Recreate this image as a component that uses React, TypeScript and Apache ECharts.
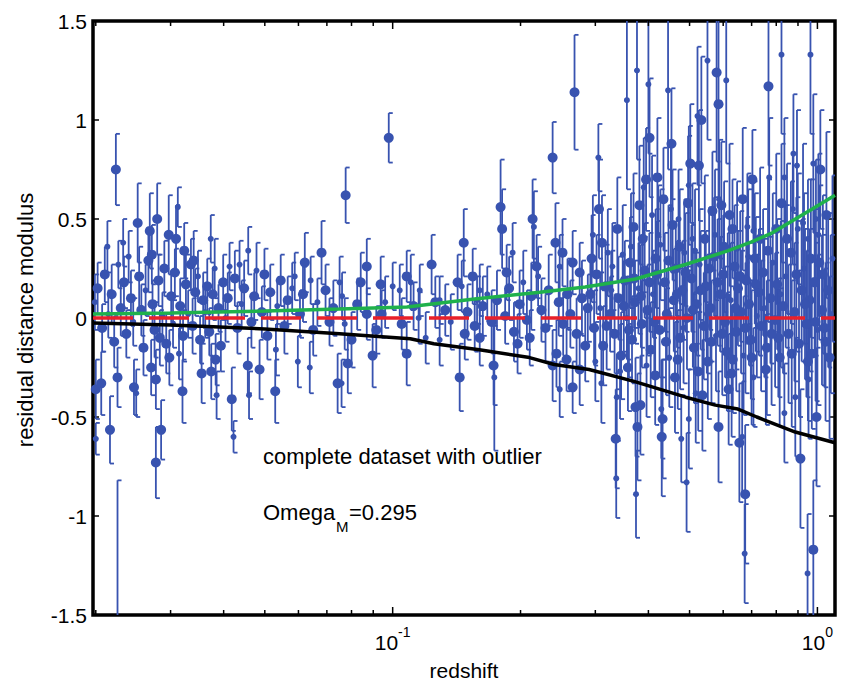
import React, { useEffect, useRef } from 'react';
import * as echarts from 'echarts';

// ---- axis ranges and ticks ----
const xMin = 0.0197;
const xMax = 1.1;
const yMin = -1.5;
const yMax = 1.5;
const yStep = 0.5;
const xMinorTicks = [0.02, 0.03, 0.04, 0.05, 0.06, 0.07, 0.08, 0.09, 0.2, 0.3, 0.4, 0.5, 0.6, 0.7, 0.8, 0.9];
const xMajorTicks = [0.1, 1];

// ---- supernova residuals: [redshift, residual, error, weightFlag] ----
const nearbyPoints = [
  [0.0199, 0.08, 0.14, 0], [0.0200, -0.36, 0.15, 1], [0.0200, -0.61, 0.08, 0], [0.0202, 0.15, 0.13, 1],
  [0.0206, -0.33, 0.16, 1], [0.0207, -0.05, 0.12, 1], [0.0210, 0.22, 0.14, 1], [0.0213, 0.36, 0.13, 0],
  [0.0214, 0.02, 0.12, 0], [0.0216, -0.565, 0.17, 1], [0.0218, 0.12, 0.15, 1], [0.0221, -0.12, 0.13, 1],
  [0.0223, 0.75, 0.18, 1], [0.0225, -0.30, 0.15, 1], [0.0226, 0.27, 0.12, 0], [0.0229, 0.05, 0.14, 1],
  [0.0232, 0.38, 0.12, 0], [0.0233, 0.18, 0.13, 1], [0.0236, -0.08, 0.12, 1], [0.0239, 0.31, 0.13, 0],
  [0.0242, 0.10, 0.14, 1], [0.0245, -0.02, 0.12, 0], [0.0246, -0.35, 0.14, 1], [0.0249, -0.38, 0.12, 0],
  [0.0251, 0.48, 0.20, 1], [0.0253, 0.21, 0.15, 1], [0.0256, 0.04, 0.13, 1], [0.0259, -0.15, 0.14, 1],
  [0.0262, 0.14, 0.13, 0], [0.0266, 0.29, 0.16, 1], [0.0268, 0.44, 0.19, 1], [0.0270, -0.25, 0.14, 1],
  [0.0271, 0.32, 0.15, 1], [0.0272, 0.07, 0.12, 1], [0.0275, -0.06, 0.14, 1], [0.0277, -0.31, 0.15, 1],
  [0.0277, -0.73, 0.18, 1], [0.0279, 0.50, 0.18, 1], [0.0281, 0.19, 0.13, 1], [0.0283, -0.10, 0.14, 1],
  [0.0285, -0.565, 0.15, 1], [0.0287, 0.01, 0.12, 0], [0.0290, 0.25, 0.14, 1], [0.0293, -0.13, 0.15, 1],
  [0.0297, 0.42, 0.20, 1], [0.0298, -0.20, 0.14, 1], [0.0301, 0.11, 0.13, 1], [0.0304, -0.03, 0.12, 0],
  [0.0307, 0.23, 0.12, 1], [0.0309, 0.40, 0.17, 1], [0.0312, 0.56, 0.10, 0], [0.0314, -0.18, 0.13, 0],
  [0.0316, 0.06, 0.14, 1], [0.0320, -0.37, 0.16, 1], [0.0321, -0.09, 0.13, 1], [0.0323, 0.34, 0.14, 1],
  [0.0326, 0.17, 0.15, 1], [0.0330, 0.02, 0.12, 0], [0.0335, 0.27, 0.13, 1], [0.0338, -0.04, 0.14, 1],
  [0.0340, 0.29, 0.15, 1], [0.0343, 0.13, 0.12, 1], [0.0348, 0.21, 0.13, 0], [0.0352, -0.11, 0.12, 1],
  [0.0355, -0.28, 0.15, 1], [0.0358, 0.09, 0.14, 1], [0.0362, 0.03, 0.13, 0], [0.0366, 0.16, 0.14, 1],
  [0.0370, -0.07, 0.12, 1], [0.0373, 0.40, 0.12, 0], [0.0374, -0.27, 0.14, 1], [0.0377, 0.12, 0.13, 1],
  [0.0381, 0.25, 0.15, 0], [0.0383, -0.21, 0.13, 1], [0.0385, -0.39, 0.12, 0], [0.0389, 0.05, 0.12, 1],
  [0.0394, -0.14, 0.13, 1], [0.0399, 0.18, 0.14, 1], [0.0404, 0.00, 0.12, 0], [0.0409, 0.10, 0.13, 1],
  [0.0413, 0.26, 0.12, 0], [0.0418, -0.41, 0.16, 1], [0.0422, -0.60, 0.08, 0], [0.0425, 0.20, 0.14, 1],
  [0.0431, -0.05, 0.13, 1], [0.0436, 0.27, 0.12, 0], [0.0441, 0.07, 0.12, 0], [0.0447, 0.15, 0.14, 1],
  [0.0456, -0.24, 0.14, 1], [0.0457, 0.34, 0.12, 0], [0.0459, -0.39, 0.12, 0], [0.0465, -0.02, 0.13, 1],
  [0.0472, 0.11, 0.12, 1], [0.0478, 0.24, 0.14, 0], [0.0486, -0.26, 0.15, 1], [0.0492, 0.03, 0.13, 1],
  [0.0499, 0.22, 0.13, 1], [0.0507, -0.09, 0.12, 1], [0.0515, 0.13, 0.14, 1], [0.0529, -0.37, 0.16, 1],
  [0.0531, -0.16, 0.13, 0], [0.0535, 0.06, 0.12, 0], [0.0545, 0.19, 0.13, 1], [0.0556, -0.04, 0.14, 1],
  [0.0566, 0.09, 0.12, 1], [0.0580, 0.15, 0.13, 0], [0.0588, 0.21, 0.12, 0], [0.0598, -0.22, 0.13, 0],
  [0.0605, 0.02, 0.12, 1], [0.0615, 0.12, 0.14, 1], [0.0621, 0.28, 0.15, 1], [0.0638, -0.25, 0.13, 0],
  [0.0641, 0.19, 0.12, 0], [0.0650, -0.06, 0.13, 1], [0.0665, 0.08, 0.12, 0], [0.0680, 0.33, 0.16, 1],
  [0.0695, 0.14, 0.13, 1], [0.0710, -0.02, 0.12, 1], [0.0725, 0.05, 0.14, 1], [0.0742, -0.33, 0.15, 1],
];

const intermediatePoints = [
  [0.0750, 0.18, 0.13, 0], [0.0758, -0.33, 0.12, 0], [0.0760, 0.11, 0.12, 0], [0.0771, -0.03, 0.13, 0],
  [0.0775, 0.62, 0.14, 1], [0.0784, -0.23, 0.15, 1], [0.0800, -0.11, 0.14, 1], [0.0825, 0.07, 0.13, 1],
  [0.0841, 0.18, 0.15, 1], [0.0869, 0.26, 0.14, 1], [0.0869, 0.02, 0.13, 1], [0.0897, -0.19, 0.16, 1],
  [0.0915, -0.06, 0.12, 1], [0.0937, 0.17, 0.14, 1], [0.0942, 0.02, 0.12, 1], [0.0960, 0.08, 0.13, 0],
  [0.0979, 0.91, 0.125, 1], [0.1000, 0.16, 0.12, 0], [0.1039, 0.14, 0.13, 0], [0.1050, -0.03, 0.13, 1],
  [0.1079, 0.21, 0.13, 1], [0.1079, -0.18, 0.16, 1], [0.1103, 0.18, 0.14, 0], [0.1120, 0.06, 0.12, 1],
  [0.1151, 0.00, 0.13, 0], [0.1158, 0.14, 0.13, 0], [0.1196, -0.10, 0.13, 0], [0.1235, 0.27, 0.15, 1],
  [0.1260, 0.08, 0.13, 1], [0.1290, 0.09, 0.12, 0], [0.1290, -0.11, 0.13, 0], [0.1330, 0.04, 0.13, 1],
  [0.1370, -0.02, 0.14, 0], [0.1422, 0.18, 0.14, 1], [0.1438, -0.30, 0.17, 1], [0.1454, 0.16, 0.13, 0],
  [0.1470, 0.38, 0.17, 1], [0.1478, -0.08, 0.13, 1], [0.1500, 0.03, 0.14, 1], [0.1543, 0.21, 0.14, 1],
  [0.1560, -0.04, 0.13, 1], [0.1580, 0.09, 0.12, 0], [0.1603, 0.14, 0.13, 0], [0.1603, -0.10, 0.14, 1],
  [0.1630, 0.06, 0.15, 1], [0.1670, 0.12, 0.14, 0], [0.1710, -0.02, 0.16, 1], [0.1728, -0.24, 0.20, 1],
  [0.1735, -0.30, 0.37, 0], [0.1760, 0.09, 0.15, 1], [0.1795, 0.56, 0.24, 1], [0.1810, 0.45, 0.20, 1],
  [0.1840, 0.01, 0.14, 1], [0.1855, 0.23, 0.14, 1], [0.1880, 0.15, 0.16, 1], [0.1916, 0.33, 0.15, 0],
  [0.1930, -0.07, 0.15, 1], [0.1968, -0.13, 0.15, 1], [0.1990, 0.07, 0.17, 1], [0.2030, 0.18, 0.16, 0],
  [0.2070, -0.01, 0.15, 1], [0.2102, -0.10, 0.14, 1], [0.2120, 0.11, 0.17, 1], [0.2135, 0.50, 0.20, 1],
  [0.2150, 0.46, 0.18, 0], [0.2182, 0.26, 0.16, 1], [0.2200, 0.21, 0.15, 0], [0.2240, 0.04, 0.16, 1],
  [0.2290, -0.05, 0.17, 1], [0.2330, 0.14, 0.18, 1], [0.2380, 0.81, 0.18, 1], [0.2380, -0.24, 0.18, 1],
  [0.2417, 0.38, 0.20, 1], [0.2430, -0.18, 0.17, 1], [0.2460, 0.08, 0.17, 1], [0.2473, 0.26, 0.16, 0],
  [0.2473, -0.36, 0.14, 0], [0.2511, 0.33, 0.17, 1], [0.2520, -0.03, 0.16, 1], [0.2567, -0.21, 0.16, 1],
  [0.2580, 0.12, 0.18, 1], [0.2620, 0.02, 0.17, 1], [0.2653, 0.28, 0.16, 1], [0.2653, -0.35, 0.13, 1],
  [0.2680, 1.14, 0.29, 1], [0.2710, -0.08, 0.18, 1], [0.2756, 0.23, 0.15, 1], [0.2756, -0.26, 0.18, 1],
  [0.2790, 0.10, 0.19, 1], [0.2840, -0.14, 0.18, 1], [0.2880, 0.05, 0.17, 1],
];

const distantPoints = [
  [0.292, 0.12, 0.18, 1], [0.296, 0.42, 0.20, 0], [0.298, -0.05, 0.19, 1], [0.302, 0.22, 0.20, 1],
  [0.305, 0.81, 0.17, 0], [0.306, 0.55, 0.25, 1], [0.308, 0.05, 0.18, 0], [0.310, -0.33, 0.20, 0],
  [0.313, -0.14, 0.20, 1], [0.317, 0.16, 0.21, 1], [0.321, 0.33, 0.22, 0], [0.325, 0.02, 0.19, 1],
  [0.329, 0.26, 0.22, 0], [0.333, -0.08, 0.20, 1], [0.335, -0.61, 0.25, 1], [0.336, -0.81, 0.20, 0],
  [0.337, -0.40, 0.22, 0], [0.340, 0.10, 0.21, 1], [0.345, -0.19, 0.22, 1], [0.348, 0.32, 0.25, 0],
  [0.352, 0.19, 0.20, 1], [0.356, 0.00, 0.21, 0], [0.358, -0.25, 0.22, 1], [0.362, 0.28, 0.23, 1],
  [0.366, -0.11, 0.22, 1], [0.369, 0.46, 0.27, 1], [0.372, 0.08, 0.21, 1], [0.373, -0.45, 0.25, 1],
  [0.374, -0.89, 0.22, 0], [0.376, 1.25, 0.45, 0], [0.377, -0.55, 0.27, 1], [0.379, 0.15, 0.23, 0],
  [0.381, 0.57, 0.30, 1], [0.383, -0.44, 0.25, 1], [0.386, -0.03, 0.22, 1], [0.390, 0.66, 0.25, 0],
  [0.392, 0.24, 0.24, 1], [0.395, 0.70, 0.26, 1], [0.398, 0.04, 0.23, 1], [0.400, 1.18, 0.35, 0],
  [0.4025, 0.91, 0.30, 1], [0.405, -0.16, 0.24, 1], [0.410, 0.12, 0.22, 0], [0.415, -0.29, 0.25, 1],
  [0.416, 0.30, 0.25, 1], [0.420, 0.71, 0.30, 1], [0.422, 0.42, 0.25, 0], [0.425, -0.06, 0.24, 1],
  [0.429, -0.46, 0.25, 0], [0.430, -0.60, 0.30, 1], [0.432, -0.51, 0.30, 1], [0.434, 0.60, 0.26, 1],
  [0.437, 0.18, 0.25, 1], [0.442, 0.02, 0.23, 1], [0.448, -0.20, 0.25, 0], [0.4533, 0.88, 0.28, 1],
  [0.456, 0.47, 0.28, 1], [0.459, 0.09, 0.26, 1], [0.464, 0.25, 0.24, 1], [0.469, -0.21, 0.25, 1],
  [0.471, 0.50, 0.25, 0], [0.475, -0.10, 0.26, 1], [0.478, -0.61, 0.22, 0], [0.481, 0.14, 0.25, 1],
  [0.486, 0.33, 0.27, 0], [0.492, -0.83, 0.25, 0], [0.493, 0.00, 0.26, 1], [0.498, 0.67, 0.30, 0],
  [0.498, -0.51, 0.25, 0], [0.502, 0.78, 0.30, 1], [0.505, 0.20, 0.27, 1], [0.508, 0.40, 0.28, 0],
  [0.512, -0.15, 0.28, 1], [0.517, -0.38, 0.25, 0], [0.519, 0.07, 0.26, 1], [0.522, 1.02, 0.35, 0],
  [0.526, 0.77, 0.28, 1], [0.528, 0.27, 0.28, 0], [0.533, 1.00, 0.32, 1], [0.536, -0.39, 0.28, 1],
  [0.540, -0.04, 0.27, 1], [0.546, 0.16, 0.28, 1], [0.551, 1.30, 0.40, 0], [0.552, -0.22, 0.29, 1],
  [0.560, 0.05, 0.27, 1], [0.566, 0.54, 0.30, 1], [0.571, 0.31, 0.30, 1], [0.577, -0.09, 0.28, 0],
  [0.579, 1.24, 0.45, 1], [0.585, 1.08, 0.50, 1], [0.585, -0.55, 0.28, 1], [0.587, 0.60, 0.30, 0],
  [0.590, 0.12, 0.29, 1], [0.594, 0.57, 0.32, 1], [0.600, 0.22, 0.30, 1], [0.606, -0.02, 0.28, 1],
  [0.612, -0.17, 0.30, 1], [0.618, -0.36, 0.28, 1], [0.625, 0.09, 0.29, 0], [0.631, 0.45, 0.25, 1],
  [0.632, -0.21, 0.27, 1], [0.638, 0.26, 0.31, 1], [0.644, -0.07, 0.30, 1], [0.650, 0.15, 0.29, 1],
  [0.655, -0.63, 0.30, 1], [0.661, 0.03, 0.31, 1], [0.665, -0.60, 0.28, 0], [0.670, -0.19, 0.30, 0],
  [0.674, -1.19, 0.25, 0], [0.676, -0.89, 0.35, 1], [0.680, 0.19, 0.32, 1], [0.684, 0.46, 0.27, 0],
  [0.690, 0.07, 0.31, 1], [0.697, -0.11, 0.30, 1], [0.703, 0.70, 0.25, 1], [0.707, 0.44, 0.25, 0],
  [0.707, -0.30, 0.25, 0], [0.712, 0.30, 0.33, 1], [0.720, 0.01, 0.31, 0], [0.728, 0.13, 0.32, 1],
  [0.737, -0.04, 0.33, 1], [0.745, 0.23, 0.32, 1], [0.756, -0.26, 0.28, 1], [0.760, -0.15, 0.34, 1],
  [0.767, 1.17, 0.40, 1], [0.770, 0.71, 0.30, 0], [0.775, 0.10, 0.33, 1], [0.785, 0.28, 0.35, 0],
  [0.795, -0.01, 0.34, 1], [0.804, 0.17, 0.33, 1], [0.809, -0.10, 0.30, 1], [0.815, -0.20, 0.35, 1],
  [0.823, 1.33, 0.40, 0], [0.823, 0.58, 0.30, 1], [0.830, 0.06, 0.34, 1], [0.836, 0.71, 0.30, 0],
  [0.836, -0.48, 0.25, 0], [0.842, 0.21, 0.36, 0], [0.855, -0.08, 0.35, 1], [0.866, 0.33, 0.36, 1],
  [0.875, 0.55, 0.28, 0], [0.878, 0.83, 0.30, 0], [0.883, 0.03, 0.35, 1], [0.887, -0.40, 0.30, 0],
  [0.895, 0.77, 0.28, 0], [0.899, 0.45, 0.28, 0], [0.905, -0.13, 0.37, 1], [0.912, -0.71, 0.35, 1],
  [0.918, 0.14, 0.36, 1], [0.930, 0.25, 0.38, 0], [0.942, -0.03, 0.37, 1], [0.948, -1.29, 0.30, 0],
  [0.950, 0.40, 0.30, 0], [0.950, -0.22, 0.30, 1], [0.953, -0.31, 0.30, 0], [0.958, 0.09, 0.36, 1],
  [0.963, 1.33, 0.40, 0], [0.970, -0.18, 0.38, 1], [0.978, 0.78, 0.35, 0], [0.978, -1.17, 0.35, 1],
  [0.985, 0.18, 0.37, 1], [0.992, 0.50, 0.30, 0], [0.995, -0.50, 0.35, 1], [1.000, -0.06, 0.38, 0],
  [1.010, 0.28, 0.39, 1], [1.016, 0.75, 0.30, 1], [1.025, 0.04, 0.38, 1], [1.038, -0.05, 0.30, 1],
  [1.045, -0.12, 0.40, 1], [1.060, 0.14, 0.39, 1], [1.075, 0.02, 0.40, 0],
];

const distantDensePoints = [
  [0.294, 0.30, 0.22, 1], [0.300, -0.22, 0.20, 0], [0.311, 0.38, 0.24, 1], [0.319, -0.04, 0.22, 1],
  [0.327, 0.14, 0.20, 0], [0.338, 0.45, 0.26, 1], [0.343, -0.27, 0.24, 0], [0.350, 0.06, 0.23, 1],
  [0.356, 1.10, 0.45, 0], [0.360, -0.06, 0.24, 1], [0.364, 0.36, 0.27, 0], [0.370, 0.20, 0.25, 1],
  [0.384, 0.11, 0.26, 1], [0.388, 0.40, 0.27, 1], [0.396, -0.24, 0.26, 0], [0.402, 0.18, 0.25, 1],
  [0.408, 0.52, 0.30, 0], [0.413, -0.02, 0.26, 1], [0.419, 0.22, 0.27, 1], [0.427, 0.37, 0.28, 0],
  [0.440, -0.12, 0.27, 1], [0.445, 1.15, 0.40, 0], [0.446, 0.29, 0.28, 1], [0.452, 0.55, 0.32, 0],
  [0.462, -0.30, 0.28, 1], [0.467, 0.12, 0.27, 1], [0.474, 0.36, 0.29, 1], [0.484, -0.05, 0.28, 0],
  [0.489, 0.23, 0.30, 1], [0.496, 0.58, 0.34, 1], [0.509, 0.04, 0.29, 1], [0.515, 0.34, 0.31, 0],
  [0.524, -0.27, 0.30, 1], [0.531, 0.14, 0.30, 1], [0.543, 0.40, 0.32, 1], [0.549, 0.02, 0.30, 0],
  [0.556, 0.25, 0.31, 1], [0.563, -0.12, 0.31, 1], [0.574, 0.42, 0.33, 0], [0.582, 0.18, 0.32, 1],
  [0.597, -0.08, 0.31, 1], [0.603, 0.36, 0.33, 1], [0.610, 1.20, 0.42, 0], [0.615, 0.11, 0.32, 0],
  [0.621, 0.52, 0.36, 1], [0.628, -0.28, 0.32, 1], [0.641, 0.05, 0.31, 1], [0.647, 0.35, 0.34, 0],
  [0.658, 0.21, 0.33, 1], [0.667, 0.60, 0.36, 1], [0.677, -0.05, 0.33, 1], [0.687, 0.31, 0.34, 0],
  [0.700, -0.20, 0.34, 1], [0.716, 0.17, 0.34, 1], [0.733, 0.40, 0.36, 1], [0.750, 0.05, 0.35, 0],
  [0.765, 0.34, 0.36, 1], [0.780, -0.08, 0.36, 1], [0.800, 0.45, 0.38, 1], [0.820, 0.12, 0.37, 0],
  [0.848, 0.40, 0.38, 1], [0.870, -0.18, 0.37, 1], [0.892, 0.22, 0.39, 1], [0.925, 0.48, 0.40, 0],
  [0.935, 0.07, 0.38, 1], [0.965, 0.30, 0.40, 1], [0.990, -0.02, 0.40, 1], [1.005, 0.42, 0.41, 0],
  [1.030, 0.22, 0.40, 1], [1.050, 0.52, 0.42, 1], [1.068, -0.20, 0.41, 1], [1.085, 0.30, 0.42, 0],
];

const outlierPoints = [[0.0225, -1.70, 0.88, 1]];

// ---- model curves ----
const upperModelZ = [0.0197, 0.03, 0.05, 0.075, 0.108, 0.154, 0.222, 0.284, 0.373, 0.489, 0.617, 0.70, 0.783, 0.972, 1.1];
const upperModelR = [0.02, 0.025, 0.035, 0.045, 0.056, 0.095, 0.13, 0.157, 0.197, 0.27, 0.34, 0.385, 0.43, 0.55, 0.62];
const lowerModelZ = [0.0197, 0.03, 0.05, 0.075, 0.11, 0.125, 0.16, 0.21, 0.24, 0.29, 0.37, 0.49, 0.575, 0.65, 0.72, 0.887, 1.1];
const lowerModelR = [-0.025, -0.035, -0.055, -0.08, -0.105, -0.13, -0.16, -0.2, -0.235, -0.26, -0.32, -0.40, -0.44, -0.46, -0.5, -0.576, -0.63];
const referenceZ = [0.0197, 1.1];
const referenceR = [0, 0];

const annotationTitle = 'complete dataset with outlier';
const annotationParam = 'Omega';
const annotationSub = 'M';
const annotationValue = '=0.295';
const xTitle = 'redshift';
const yTitle = 'residual distance modulus';

const FONT = '"Liberation Sans", Arial, Helvetica, sans-serif';
const BLUE = '#3853b0';

export default function App() {
  const ref = useRef<HTMLDivElement>(null);

  useEffect(() => {
    document.body.style.margin = '0';
    if (!ref.current) return;
    const chart = echarts.init(ref.current, undefined, { renderer: 'svg' });

    const allPoints = [...nearbyPoints, ...intermediatePoints, ...distantPoints, ...distantDensePoints, ...outlierPoints];
    const zip = (a: number[], b: number[]) => a.map((v, i) => [v, b[i]]);

    const tickData = [
      ...xMinorTicks.map((v) => [v, 0, 0]),
      ...xMajorTicks.map((v) => [v, 0, 1]),
    ];

    const isPow10 = (v: number) => {
      const l = Math.log10(v);
      return Math.abs(l - Math.round(l)) < 1e-6;
    };

    const option: any = {
      animation: false,
      backgroundColor: '#ffffff',
      grid: {
        left: 93, top: 21, right: 6, bottom: 68,
        show: true, borderColor: '#000', borderWidth: 3.5, backgroundColor: 'transparent',
      },
      xAxis: {
        type: 'log', logBase: 10, min: xMin, max: xMax,
        axisLine: { show: false }, axisTick: { show: false }, splitLine: { show: false },
        minorTick: { show: false }, minorSplitLine: { show: false },
        axisLabel: {
          margin: 10,
          color: '#000',
          formatter: (v: number) => (isPow10(v) ? `{b|10}{s|${Math.round(Math.log10(v))}}` : ''),
          rich: {
            b: { fontSize: 21, fontFamily: FONT, color: '#000', lineHeight: 28, verticalAlign: 'bottom' },
            s: { fontSize: 14, fontFamily: FONT, color: '#000', lineHeight: 14, verticalAlign: 'top' },
          },
        },
      },
      yAxis: [
        {
          type: 'value', min: yMin, max: yMax, interval: yStep,
          axisLine: { show: false }, splitLine: { show: false },
          axisTick: { inside: true, length: 6, lineStyle: { color: '#000', width: 1.5 } },
          axisLabel: { fontSize: 21, fontFamily: FONT, color: '#000', margin: 6 },
        },
        {
          type: 'value', position: 'right', min: yMin, max: yMax, interval: yStep,
          axisLine: { show: false }, splitLine: { show: false },
          axisTick: { inside: true, length: 6, lineStyle: { color: '#000', width: 1.5 } },
          axisLabel: { show: false },
        },
      ],
      series: [
        {
          type: 'custom',
          name: 'error bars',
          clip: true,
          z: 2,
          data: allPoints,
          renderItem: (params: any, api: any) => {
            const z = api.value(0);
            const r = api.value(1);
            const e = api.value(2);
            const top = api.coord([z, r + e]);
            const bot = api.coord([z, r - e]);
            const cap = 4;
            const style = { stroke: BLUE, lineWidth: 1.8, fill: 'none' };
            return {
              type: 'group',
              children: [
                { type: 'line', shape: { x1: top[0], y1: top[1], x2: bot[0], y2: bot[1] }, style },
                { type: 'line', shape: { x1: top[0], y1: top[1], x2: top[0] + cap, y2: top[1] }, style },
                { type: 'line', shape: { x1: bot[0], y1: bot[1], x2: bot[0] + cap, y2: bot[1] }, style },
              ],
            };
          },
        },
        {
          type: 'scatter',
          name: 'residuals',
          z: 3,
          clip: true,
          data: allPoints.map((p) => [p[0], p[1], p[3]]),
          symbol: 'circle',
          symbolSize: (v: number[]) => (v[2] ? 10 : 6),
          itemStyle: { color: BLUE, opacity: 1 },
        },
        {
          type: 'line',
          name: 'reference',
          z: 4,
          data: zip(referenceZ, referenceR),
          showSymbol: false,
          symbol: 'none',
          lineStyle: { color: '#e8202a', width: 3.5, type: [40, 16] },
        },
        {
          type: 'line',
          name: 'upper model',
          z: 5,
          data: zip(upperModelZ, upperModelR),
          showSymbol: false,
          symbol: 'none',
          lineStyle: { color: '#1fb14c', width: 3.5 },
        },
        {
          type: 'line',
          name: 'lower model',
          z: 5,
          data: zip(lowerModelZ, lowerModelR),
          showSymbol: false,
          symbol: 'none',
          lineStyle: { color: '#000000', width: 3.5 },
        },
        {
          type: 'custom',
          name: 'x ticks',
          z: 10,
          clip: false,
          data: tickData,
          renderItem: (params: any, api: any) => {
            const x = api.coord([api.value(0), 0])[0];
            const cs = params.coordSys;
            const len = api.value(2) ? 8 : 5;
            const yb = cs.y + cs.height;
            const style = { stroke: '#000', lineWidth: 1.5 };
            return {
              type: 'group',
              children: [
                { type: 'line', shape: { x1: x, y1: yb, x2: x, y2: yb - len }, style },
                { type: 'line', shape: { x1: x, y1: cs.y, x2: x, y2: cs.y + len }, style },
              ],
            };
          },
        },
      ],
      graphic: [
        {
          type: 'text', x: 263, y: 456, z: 20,
          style: { text: annotationTitle, fontSize: 22, fontFamily: FONT, fill: '#000', align: 'left', verticalAlign: 'middle' },
        },
        {
          type: 'text', x: 263, y: 512, z: 20,
          style: { text: annotationParam, fontSize: 22, fontFamily: FONT, fill: '#000', align: 'left', verticalAlign: 'middle' },
        },
        {
          type: 'text', x: 336, y: 526, z: 20,
          style: { text: annotationSub, fontSize: 15, fontFamily: FONT, fill: '#000', align: 'left', verticalAlign: 'middle' },
        },
        {
          type: 'text', x: 349, y: 512, z: 20,
          style: { text: annotationValue, fontSize: 22, fontFamily: FONT, fill: '#000', align: 'left', verticalAlign: 'middle' },
        },
        {
          type: 'text', x: 464, y: 670, z: 20,
          style: { text: xTitle, fontSize: 21, fontFamily: FONT, fill: '#000', align: 'center', verticalAlign: 'middle' },
        },
        {
          type: 'text', x: 25, y: 320, z: 20, rotation: Math.PI / 2,
          style: { text: yTitle, fontSize: 22, fontFamily: FONT, fill: '#000', align: 'center', verticalAlign: 'middle' },
        },
      ],
    };

    chart.setOption(option);
    return () => chart.dispose();
  }, []);

  return <div ref={ref} style={{ width: 841, height: 683 }} />;
}
